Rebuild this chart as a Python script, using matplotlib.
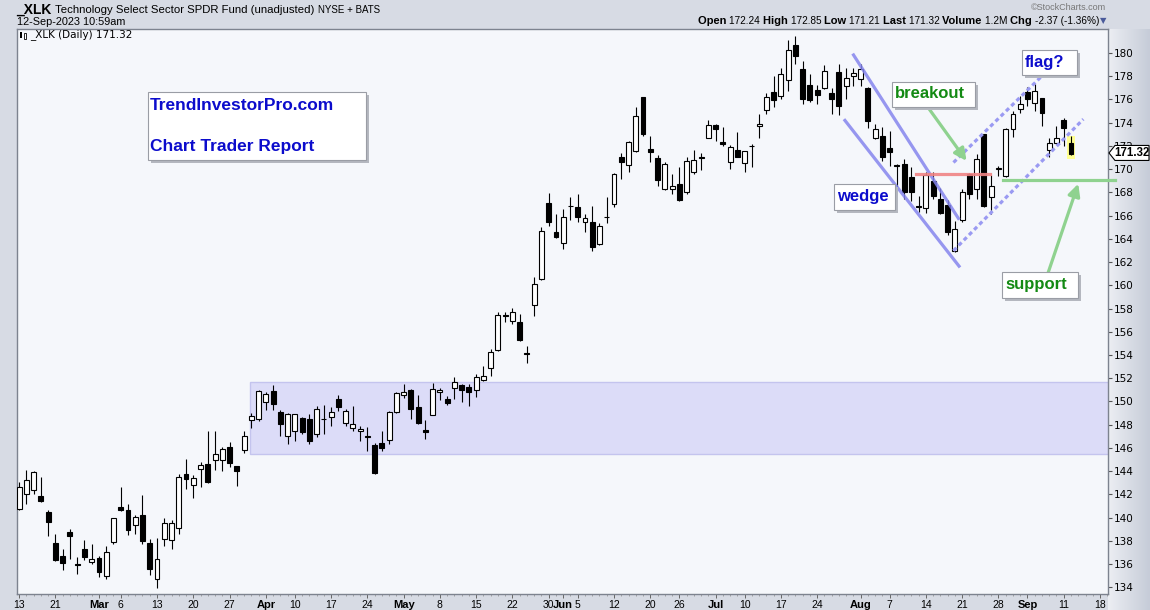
"""XLK daily candlesticks, StockCharts-style, with wedge / flag annotations."""
import numpy as np
import pandas as pd
import matplotlib
matplotlib.use("Agg")
import matplotlib.pyplot as plt
from matplotlib.patches import Rectangle, Polygon

W, H = 1150, 610
plt.rcParams["font.family"] = ["Liberation Sans", "DejaVu Sans"]

# ---- data -------------------------------------------------------------
holidays = ["2023-02-20", "2023-04-07", "2023-05-29", "2023-06-19", "2023-07-04", "2023-09-04"]
days = pd.bdate_range("2023-02-13", "2023-09-12")
days = days[~days.isin(pd.to_datetime(holidays))]

opens = [140.74, 142.00, 142.40, 141.88, 140.45, 137.84, 136.67, 138.73, 135.97, 137.33,
         136.21, 136.49, 134.98, 137.93, 140.94, 140.62, 139.39, 140.25, 137.84, 134.75,
         138.13, 138.04, 139.13, 143.75, 142.77, 144.20, 144.58, 144.98, 144.98, 146.07,
         144.49, 145.80, 148.42, 148.50, 149.99, 150.94, 149.13, 147.04, 147.50, 148.59,
         148.50, 147.21, 148.53, 148.65, 150.22, 148.13, 147.73, 147.44, 147.04, 146.28,
         146.41, 146.70, 149.08, 150.57, 151.03, 149.56, 147.56, 148.85, 150.83, 150.22,
         151.17, 151.43, 151.28, 151.00, 151.86, 152.88, 154.43, 157.46, 156.95, 156.81,
         154.16, 158.30, 160.53, 167.07, 164.60, 163.63, 166.86, 166.75, 165.41, 165.46,
         163.54, 165.87, 167.04, 171.06, 170.34, 171.57, 176.21, 171.74, 170.94, 168.28,
         168.28, 168.71, 167.99, 169.71, 171.02, 172.72, 173.78, 172.35, 170.57, 171.63,
         170.51, 171.98, 173.69, 175.07, 176.64, 176.30, 177.70, 180.68, 178.61, 177.25,
         176.79, 176.96, 176.59, 178.39, 177.16, 178.02, 177.73, 177.02, 172.72, 172.86,
         171.86, 170.37, 170.48, 169.34, 166.81, 166.64, 168.99, 167.42, 166.93, 162.92,
         165.61, 169.62, 168.28, 173.00, 167.62, 169.98, 169.42, 173.43, 175.15, 176.67,
         175.73, 176.10, 171.63, 172.29, 174.21, 172.24]
highs = [143.06, 144.12, 144.00, 143.54, 140.62, 138.61, 137.27, 138.99, 136.61, 138.04,
         137.70, 136.67, 137.53, 140.00, 142.60, 141.14, 140.25, 141.91, 138.19, 138.27,
         139.99, 139.76, 143.75, 145.06, 143.63, 144.83, 147.50, 147.50, 146.07, 146.50,
         144.49, 147.50, 149.02, 151.00, 150.80, 151.43, 149.28, 148.99, 148.93, 148.65,
         148.88, 149.65, 149.74, 149.51, 150.60, 149.36, 149.65, 147.93, 147.79, 146.45,
         147.50, 149.22, 150.80, 151.51, 151.09, 150.57, 148.42, 151.57, 151.17, 150.51,
         152.09, 151.51, 151.51, 152.37, 153.08, 154.52, 157.67, 157.67, 158.04, 157.53,
         154.80, 160.68, 164.98, 167.93, 166.12, 166.55, 167.61, 167.84, 166.12, 166.84,
         165.32, 167.64, 169.65, 171.43, 172.43, 175.35, 176.25, 172.86, 171.23, 170.57,
         169.57, 170.20, 171.00, 171.63, 171.43, 174.21, 173.92, 173.64, 172.09, 173.21,
         171.60, 172.14, 174.72, 176.53, 178.02, 178.68, 181.11, 181.49, 179.34, 178.17,
         177.25, 178.97, 177.02, 179.02, 178.74, 178.68, 179.08, 177.05, 173.86, 173.64,
         173.29, 170.48, 170.86, 170.14, 167.70, 169.71, 169.71, 168.36, 167.33, 165.55,
         168.28, 169.65, 171.34, 173.05, 169.51, 170.28, 173.58, 175.01, 176.30, 177.07,
         177.30, 176.16, 172.72, 173.72, 174.44, 172.85]
lows = [140.62, 141.14, 142.05, 141.34, 138.39, 136.26, 135.46, 136.47, 135.12, 136.38,
        135.98, 134.89, 134.75, 137.76, 140.59, 138.50, 138.61, 137.76, 135.03, 133.94,
        137.55, 137.33, 138.61, 142.48, 141.71, 142.63, 142.97, 144.06, 144.00, 144.35,
        142.71, 145.55, 147.73, 148.36, 149.28, 149.28, 147.04, 146.35, 146.58, 147.21,
        146.35, 146.93, 147.21, 147.87, 149.22, 147.93, 147.50, 146.64, 145.78, 143.77,
        145.78, 146.35, 149.02, 150.31, 148.50, 148.07, 146.78, 148.85, 150.14, 149.71,
        150.22, 149.99, 149.59, 150.37, 151.80, 152.22, 154.37, 156.81, 156.67, 155.20,
        153.28, 157.38, 160.45, 165.12, 164.03, 163.11, 165.61, 165.49, 164.55, 162.91,
        163.49, 165.32, 166.70, 169.14, 169.71, 171.50, 172.86, 170.65, 168.56, 168.22,
        167.85, 167.27, 167.85, 169.57, 169.91, 172.66, 172.43, 172.00, 170.05, 171.00,
        169.79, 170.20, 172.72, 174.72, 175.35, 176.01, 176.76, 179.05, 175.64, 175.81,
        175.64, 176.87, 174.72, 174.67, 176.01, 177.16, 177.16, 173.52, 172.63, 170.71,
        170.28, 168.28, 167.42, 167.27, 166.27, 166.18, 167.42, 166.12, 164.35, 162.83,
        165.49, 167.42, 167.42, 166.76, 166.13, 169.42, 169.28, 172.78, 174.87, 175.44,
        175.01, 173.72, 171.00, 172.15, 172.00, 171.21]
closes = [142.68, 143.26, 143.95, 141.42, 139.65, 136.38, 136.12, 138.44, 135.93, 136.61,
          136.41, 135.32, 137.07, 139.99, 140.65, 138.96, 140.08, 137.98, 135.61, 136.41,
          139.56, 139.56, 143.52, 143.34, 143.40, 144.55, 143.06, 145.44, 145.87, 144.72,
          144.03, 147.07, 148.76, 150.94, 150.65, 149.79, 148.07, 148.93, 148.88, 147.41,
          146.58, 149.36, 148.48, 149.08, 149.51, 149.16, 148.07, 147.64, 146.96, 143.87,
          146.01, 149.13, 150.74, 150.83, 149.36, 148.13, 147.36, 151.08, 151.00, 149.85,
          151.66, 151.00, 150.85, 152.14, 152.23, 154.23, 157.47, 157.40, 157.67, 155.29,
          154.12, 160.10, 164.69, 165.49, 164.12, 165.89, 166.82, 165.84, 165.78, 163.26,
          165.12, 165.91, 169.57, 170.57, 172.35, 174.58, 173.06, 171.51, 169.05, 170.42,
          168.56, 167.33, 170.71, 170.77, 170.98, 173.78, 173.43, 172.20, 171.92, 171.08,
          171.57, 172.02, 173.92, 176.21, 175.93, 178.16, 180.25, 179.71, 176.07, 175.95,
          176.36, 178.45, 176.01, 175.44, 177.88, 178.31, 178.59, 174.15, 173.43, 171.00,
          171.51, 170.30, 167.99, 167.99, 166.77, 169.48, 167.70, 166.18, 164.55, 164.84,
          167.99, 167.85, 170.86, 166.84, 168.56, 170.08, 173.43, 174.72, 175.58, 176.07,
          176.73, 174.87, 172.29, 172.66, 173.58, 171.32]

# x-axis labels (trading-day date, label, bold month?)
tick_dates = ["2023-02-13", "2023-02-21", "2023-03-01", "2023-03-06", "2023-03-13", "2023-03-20",
              "2023-03-27", "2023-04-03", "2023-04-10", "2023-04-17", "2023-04-24", "2023-05-01",
              "2023-05-08", "2023-05-15", "2023-05-22", "2023-05-30", "2023-06-01", "2023-06-05",
              "2023-06-12", "2023-06-20", "2023-06-26", "2023-07-03", "2023-07-10", "2023-07-17",
              "2023-07-24", "2023-08-01", "2023-08-07", "2023-08-14", "2023-08-21", "2023-08-28",
              "2023-09-01", "2023-09-11", "2023-09-18"]
tick_labels = ["13", "21", "Mar", "6", "13", "20", "27", "Apr", "10", "17", "24", "May",
               "8", "15", "22", "30", "Jun", "5", "12", "20", "26", "Jul", "10", "17", "24",
               "Aug", "7", "14", "21", "28", "Sep", "11", "18"]
months = {"Mar", "Apr", "May", "Jun", "Jul", "Aug", "Sep"}

# ---- figure -----------------------------------------------------------
fig = plt.figure(figsize=(W / 100, H / 100), dpi=100, facecolor="#d7dbe4")
L, R, T, B = 17, 1108, 29, 594
ax = fig.add_axes([L / W, 1 - B / H, (R - L) / W, (B - T) / H])
ax.set_facecolor("#f5f7fb")

# gradient behind the price-scale column
gax = fig.add_axes([R / W, 0, (W - R) / W, 1 - T / H], zorder=-5)
grad = np.linspace(0, 1, 64)[None, :]
gax.imshow(grad, aspect="auto", cmap=matplotlib.colors.LinearSegmentedColormap.from_list(
    "g", ["#eceef3", "#c6ccd8"]), extent=[0, 1, 0, 1])
gax.axis("off")

# trading-day index for every date (future days appended so Sep 18 has a slot)
future = pd.bdate_range("2023-09-13", "2023-09-22")
all_days = days.append(future)
pos = {d.strftime("%Y-%m-%d"): i for i, d in enumerate(all_days)}
x = np.arange(len(days))
o, h, l, c = map(np.asarray, (opens, highs, lows, closes))

# support zone
ax.add_patch(Rectangle((31.8, 145.52), 160, 151.71 - 145.52, facecolor="#dcdcf8",
                       edgecolor="#c4c4ee", lw=1, zorder=1))
# highlight of the last bar
ax.add_patch(Rectangle((x[-1] - 0.55, 170.86), 1.1, 2.0, facecolor="#ffff90",
                       edgecolor="none", zorder=1))

# candles
ax.vlines(x, l, h, color="black", lw=0.8, zorder=3)
up = c >= o
body = np.maximum(np.abs(c - o), 0.04)
ax.bar(x[up], body[up], 0.68, bottom=np.minimum(o, c)[up], facecolor="white",
       edgecolor="black", lw=0.8, zorder=4)
ax.bar(x[~up], body[~up], 0.68, bottom=np.minimum(o, c)[~up], facecolor="black",
       edgecolor="black", lw=0.8, zorder=4)

# trend lines (date index, price)
ax.plot([114.9, 129.6], [179.94, 165.64], color="#8585ee", lw=2.3, alpha=0.85, zorder=5,
        solid_capstyle="butt")
ax.plot([113.7, 129.7], [174.30, 161.54], color="#8585ee", lw=2.3, alpha=0.85, zorder=5,
        solid_capstyle="butt")
ax.plot([128.8, 141.0], [170.57, 178.02], color="#9a9af2", lw=2.3, ls=(0, (1.3, 1.0)), zorder=5)
ax.plot([128.8, 146.7], [162.98, 174.30], color="#9a9af2", lw=2.3, ls=(0, (1.3, 1.0)), zorder=5)
ax.plot([123.7, 133.8], [169.57, 169.57], color="#f08484", lw=2.3, alpha=0.9, zorder=5)
ax.plot([135.6, 151.0], [169.08, 169.08], color="#8fd28f", lw=2.3, zorder=5, clip_on=False)
arrow = dict(arrowstyle="-|>", color="#8fd28f", lw=2.3, mutation_scale=18, shrinkA=0, shrinkB=0)
ax.annotate("", xy=(130.6, 170.71), xytext=(125.3, 175.30), arrowprops=arrow, zorder=6)
ax.annotate("", xy=(146.0, 168.74), xytext=(141.8, 161.0), arrowprops=arrow, zorder=6)

ax.set_xlim(-0.3, 150.1)
ax.set_ylim(133.43, 182.06)

# axes styling
for s in ax.spines.values():
    s.set_color("#7d838f")
    s.set_linewidth(1)
ax.yaxis.tick_right()
ax.set_yticks(np.arange(134, 181, 2))
ax.tick_params(axis="y", direction="out", length=3, width=0.8, color="#555555",
               labelsize=7.5, pad=1.5, labelfontfamily="DejaVu Sans")
ax.set_xticks([pos[d] for d in tick_dates])
ax.set_xticklabels(tick_labels)
for t in ax.get_xticklabels():
    t.set_fontsize(8 if t.get_text() in months else 7.5)
    t.set_fontweight("bold" if t.get_text() in months else "normal")
ax.set_xticks(np.arange(0, 151), minor=True)
ax.tick_params(axis="x", which="major", direction="out", length=3, width=0.7,
               color="#666666", pad=1)
ax.tick_params(axis="x", which="minor", direction="out", length=1.5, width=0.5,
               color="#888888")

# ---- text -------------------------------------------------------------
def fx(px):
    return px / W


def fy(py):
    return 1 - py / H


renderer = fig.canvas.get_renderer()


def runs(x_px, y_px, parts, ha="left"):
    texts = [fig.text(0, fy(y_px), s, va="center", **kw) for s, kw in parts]
    widths = [t.get_window_extent(renderer).width for t in texts]
    xx = x_px - sum(widths) if ha == "right" else x_px
    for t, w in zip(texts, widths):
        t.set_x(fx(xx))
        xx += w


runs(16, 10, [("_XLK ", dict(fontsize=10, fontweight="bold")),
              ("Technology Select Sector SPDR Fund (unadjusted) ", dict(fontsize=8.2)),
              ("NYSE + BATS", dict(fontsize=7))])
fig.text(fx(17), fy(22), "12-Sep-2023 10:59am", fontsize=7.8, va="center")
fig.text(fx(1106), fy(8), "©StockCharts.com", fontsize=6.5, color="#777777",
         ha="right", va="center")
b, n = dict(fontsize=8, fontweight="bold"), dict(fontsize=7.2)
runs(1106, 21, [("Open ", b), ("172.24 ", n), ("High ", b), ("172.85 ", n), ("Low ", b),
                ("171.21 ", n), ("Last ", b), ("171.32 ", n), ("Volume ", b), ("1.2M ", n),
                ("Chg ", b), ("-2.37 (-1.36%)", n),
                ("▼", dict(fontsize=6, color="#4a5a9a", family="DejaVu Sans"))], ha="right")

# in-plot legend with a tiny candle icon
fig.patches.append(Rectangle((fx(20), fy(38)), 2 / W, 6 / H, transform=fig.transFigure,
                             facecolor="black", figure=fig))
fig.patches.append(Rectangle((fx(24), fy(39)), 2 / W, 6 / H, transform=fig.transFigure,
                             facecolor="white", edgecolor="black", lw=0.6, figure=fig))
fig.text(fx(30), fy(35), "_XLK (Daily) 171.32", fontsize=7.5, family="DejaVu Sans",
         va="center")


def label_box(x0, y0, x1, y1, lines, color, size):
    fig.patches.append(Rectangle((fx(x0 + 3), fy(y1 + 3)), (x1 - x0) / W, (y1 - y0) / H,
                                 transform=fig.transFigure, facecolor="#b4b7bf",
                                 edgecolor="none", figure=fig, zorder=7))
    fig.patches.append(Rectangle((fx(x0), fy(y1)), (x1 - x0) / W, (y1 - y0) / H,
                                 transform=fig.transFigure, facecolor="white",
                                 edgecolor="#9a9da5", lw=0.8, figure=fig, zorder=8))
    for tx, ty, s in lines:
        fig.text(fx(tx), fy(ty), s, fontsize=size, fontweight="bold", color=color,
                 va="center", zorder=9)


blue, green = "#0c0ccc", "#138a13"
label_box(148, 92, 366, 160, [(150, 105, "TrendInvestorPro.com"),
                              (150, 147, "Chart Trader Report")], blue, 12.5)
label_box(834, 184, 895, 210, [(837, 197, "wedge")], blue, 12)
label_box(892, 82, 975, 107, [(895, 94, "breakout")], green, 12)
label_box(1022, 50, 1077, 75, [(1025, 62, "flag?")], blue, 12)
label_box(1002, 272, 1078, 298, [(1005, 285, "support")], green, 12)

# last-price tag on the scale
y_last = fy(52 + (180 - closes[-1]) * 11.63)
tag = Polygon([(fx(1109), y_last), (fx(1115), y_last + 7.5 / H), (fx(1149), y_last + 7.5 / H),
               (fx(1149), y_last - 7.5 / H), (fx(1115), y_last - 7.5 / H)],
              closed=True, transform=fig.transFigure, facecolor="white",
              edgecolor="black", lw=0.8, figure=fig, zorder=10)
fig.patches.append(tag)
fig.text(fx(1132), y_last, f"{closes[-1]:.2f}", fontsize=8.3, fontweight="bold",
         ha="center", va="center", zorder=11)

fig.savefig("out.png", dpi=100, facecolor=fig.get_facecolor())
